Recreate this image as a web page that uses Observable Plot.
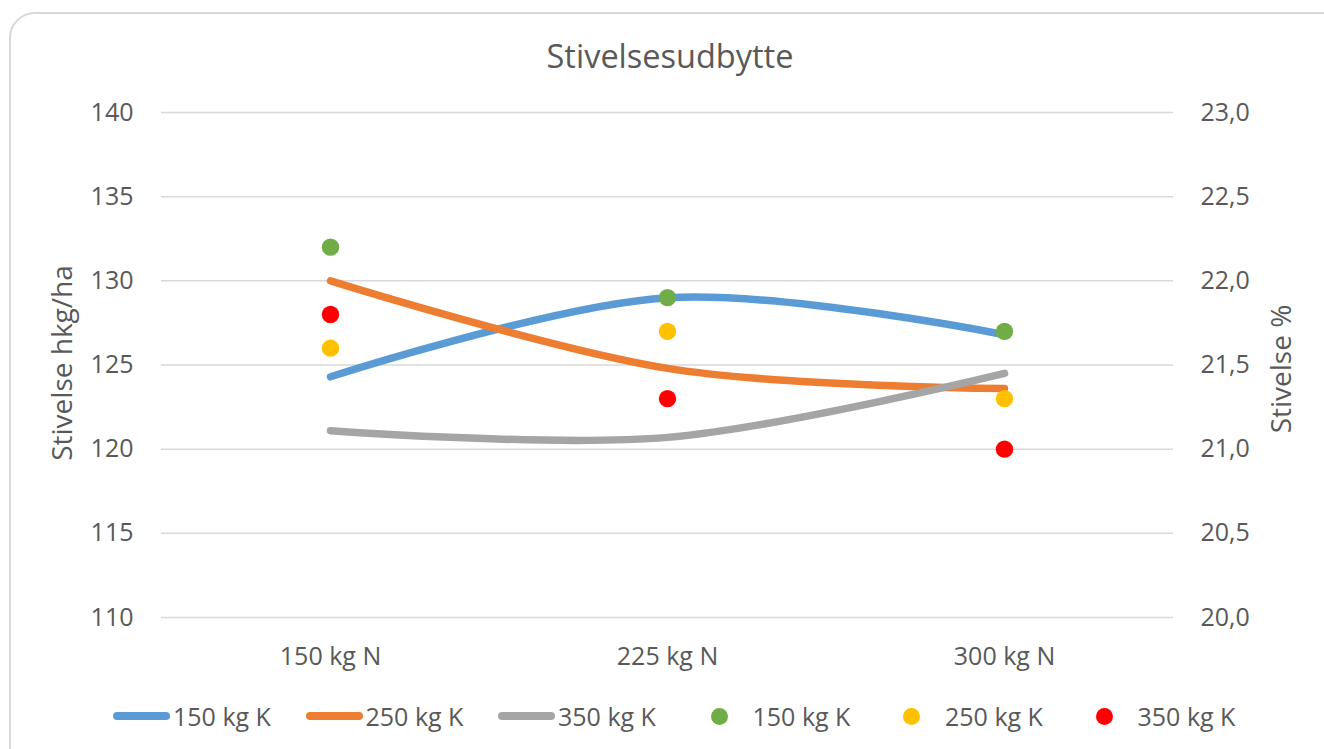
<!DOCTYPE html>
<html><head><meta charset="utf-8">
<script src="https://cdn.jsdelivr.net/npm/d3@7"></script>
<script src="https://cdn.jsdelivr.net/npm/@observablehq/plot@0.6"></script>
<style>
body{margin:0;background:#fff;font-family:"Open Sans",sans-serif;color:#595959}
#wrap{position:relative;width:1324px;height:749px;overflow:hidden}
#frame{position:absolute;left:9px;top:12px;width:1340px;height:780px;border:2px solid #d9d9d9;border-radius:26px;box-sizing:border-box}
#title{position:absolute;left:0;width:1340px;top:33px;text-align:center;font-size:32.5px;line-height:normal}
#chart{position:absolute;left:0;top:0}
.leg{position:absolute;top:703px;height:26px;display:flex;align-items:center;font-size:25px;line-height:26px;white-space:nowrap}
.sym{width:57px;height:26px;display:flex;align-items:center;justify-content:center;margin-right:3px}
.ln{width:57px;height:7.5px;border-radius:4px}
.dt{width:17px;height:17px;border-radius:50%}
</style></head>
<body><div id="wrap"><div id="frame"></div><div id="title">Stivelsesudbytte</div><div id="chart"></div><div id="legend"></div></div>
<script>
const categories = ["150 kg N", "225 kg N", "300 kg N"];
const seriesNames = ["150 kg K", "250 kg K", "350 kg K"];
// Stivelse hkg/ha (lines, left axis)
const yield150K = [124.3, 129.0, 126.8];
const yield250K = [130.0, 124.8, 123.6];
const yield350K = [121.1, 120.7, 124.5];
// Stivelse % (points, right axis)
const pct150K = [22.2, 21.9, 21.7];
const pct250K = [21.6, 21.7, 21.3];
const pct350K = [21.8, 21.3, 21.0];
const leftTicks = [110, 115, 120, 125, 130, 135, 140];
const rightTicks = ["20,0", "20,5", "21,0", "21,5", "22,0", "22,5", "23,0"];
const rightDomain = [20, 23];
const leftDomain = [110, 140];

const lineColors = ["#5B9BD5", "#ED7D31", "#A5A5A5"];
const dotColors = ["#70AD47", "#FFC000", "#FF0000"];

const toLeft = p => leftDomain[0] + (p - rightDomain[0]) * (leftDomain[1] - leftDomain[0]) / (rightDomain[1] - rightDomain[0]);
const rightMap = new Map(leftTicks.map((t, i) => [t, rightTicks[i]]));

const yields = [yield150K, yield250K, yield350K];
const pcts = [pct150K, pct250K, pct350K];
const lineData = yields.flatMap((arr, s) => arr.map((v, i) => ({series: seriesNames[s], cat: categories[i], value: v})));
const dotData = pcts.flatMap((arr, s) => arr.map((v, i) => ({series: "p" + seriesNames[s], cat: categories[i], value: toLeft(v)})));

const font = {fontSize: 25, fill: "#595959"};
const titleFont = {fontSize: 28, fill: "#595959", textAnchor: "middle", lineAnchor: "middle", rotate: -90};
const plot = Plot.plot({
  width: 1324, height: 749,
  marginTop: 112, marginBottom: 132, marginLeft: 161, marginRight: 151,
  style: {background: "transparent", fontFamily: "Open Sans", color: "#595959", overflow: "visible"},
  x: {type: "point", domain: categories, padding: 0.5},
  y: {domain: leftDomain},
  marks: [
    Plot.gridY(leftTicks, {stroke: "#d9d9d9", strokeOpacity: 1, strokeWidth: 1.5}),
    Plot.axisY(leftTicks, {anchor: "left", tickSize: 0, tickPadding: 28, label: null, ...font}),
    Plot.axisY(leftTicks, {anchor: "right", tickSize: 0, tickPadding: 27, tickFormat: d => rightMap.get(d), label: null, ...font}),
    Plot.axisX({anchor: "bottom", tickSize: 0, tickPadding: 30, label: null, ...font}),
    Plot.text(["Stivelse hkg/ha"], {frameAnchor: "left", dx: -98, dy: -2, ...titleFont}),
    Plot.text(["Stivelse %"], {frameAnchor: "right", dx: 109, dy: 4, ...titleFont}),
    ...seriesNames.map((name, s) => Plot.line(lineData.filter(d => d.series === name), {
      x: "cat", y: "value", stroke: lineColors[s], strokeWidth: 7.5, strokeLinecap: "round", strokeLinejoin: "round", curve: "cardinal"
    })),
    ...seriesNames.map((name, s) => Plot.dot(dotData.filter(d => d.series === "p" + name), {
      x: "cat", y: "value", r: 8.7, fill: dotColors[s], stroke: "none"
    }))
  ]
});
document.getElementById("chart").appendChild(plot);

// legend
const legend = document.getElementById("legend");
const entries = [
  ...seriesNames.map((n, i) => ({label: n, kind: "ln", color: lineColors[i]})),
  ...seriesNames.map((n, i) => ({label: n, kind: "dt", color: dotColors[i]}))
];
entries.forEach((e, i) => {
  const d = document.createElement("div");
  d.className = "leg";
  d.style.left = (113 + i * 192.5) + "px";
  const sym = document.createElement("div");
  sym.className = "sym";
  const m = document.createElement("div");
  m.className = e.kind;
  m.style.background = e.color;
  sym.appendChild(m);
  if (e.kind === "dt") sym.style.marginRight = "5px";
  const t = document.createElement("span");
  t.textContent = e.label;
  d.appendChild(sym); d.appendChild(t);
  legend.appendChild(d);
});
</script></body></html>
